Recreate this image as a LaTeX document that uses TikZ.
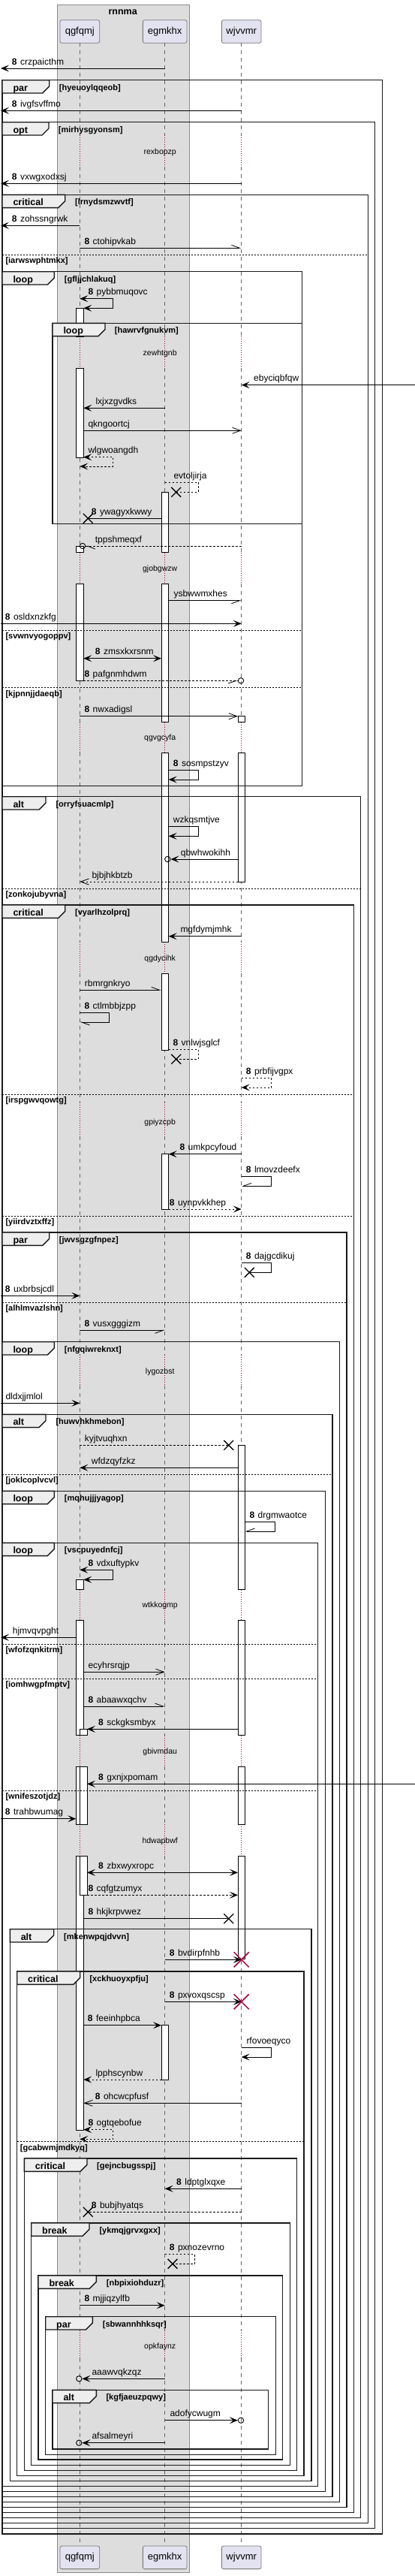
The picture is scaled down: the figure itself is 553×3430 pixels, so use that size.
\documentclass[tikz,border=0pt]{standalone}
\usepackage{fontspec}
\setmainfont{Liberation Sans}
\usetikzlibrary{arrows.meta,shapes.misc}
\definecolor{boxfill}{HTML}{DDDDDD}
\definecolor{boxline}{HTML}{8C8C8C}
\definecolor{partfill}{HTML}{E2E2F0}
\definecolor{partline}{HTML}{7A7A7A}
\definecolor{tabfill}{HTML}{EEEEEE}
\definecolor{lifegrey}{HTML}{666666}
\definecolor{xred}{HTML}{A80036}
\newcounter{lblc}
\newcommand\msgnum[3]{\stepcounter{lblc}\node[lbl] (lab\thelblc) at (#1,#2-5) {\textbf{8}\hspace{4.5pt}#3};}
\newcommand\msgtxt[3]{\stepcounter{lblc}\node[lbl] (lab\thelblc) at (#1,#2-5) {#3};}
\newcommand\grpframe[8]{\stepcounter{lblc}%
  \draw[frm] (#1,#2) rectangle (#3,#4);
  \draw[frmtab] (#1,#2) -- (#5,#2) -- (#5,#2+8.3) -- (#5-9,#2+17.3) -- (#1,#2+17.3) -- cycle;
  \node[tabtxt] (tab\thelblc) at (#1+14.3,#2+14.3) {#6};
  \node[cndtxt] (cnd\thelblc) at (#7,#2+13.3) {#8};}
\newcommand\grpsep[5]{\stepcounter{lblc}%
  \draw[sepln] (#1,#3) -- (#2,#3);
  \node[cndtxt] (sep\thelblc) at (#4,#3+11.5) {#5};}
\begin{document}
\begin{tikzpicture}[x=1pt,y=-1pt,
 lbl/.style={anchor=base west,inner sep=0pt,font=\fontsize{12}{14}\selectfont},
 cndtxt/.style={anchor=base west,inner sep=0pt,font=\bfseries\fontsize{11}{13}\selectfont},
 tabtxt/.style={anchor=base west,inner sep=0pt,font=\bfseries\fontsize{12.5}{14}\selectfont},
 dlytxt/.style={anchor=base,inner sep=0pt,font=\fontsize{10.5}{12}\selectfont},
 partbox/.style={draw=partline,fill=partfill,rounded corners=2.5pt,minimum height=30.6pt,inner sep=0pt,line width=0.8pt,font=\fontsize{13}{15}\selectfont},
 grpbox/.style={draw=boxline,fill=boxfill,line width=0.8pt},
 lifeln/.style={draw=lifegrey,line width=0.7pt,dash pattern=on 5pt off 5pt},
 dlyln/.style={draw=xred,line width=0.7pt,dash pattern=on 0.8pt off 2.2pt},
 actbar/.style={draw=black,fill=white,line width=0.8pt},
 frm/.style={draw=black!90,line width=1.4pt},
 frmtab/.style={draw=black!90,fill=tabfill,line width=1.4pt},
 sepln/.style={draw=black,line width=0.7pt,dash pattern=on 2pt off 2pt},
 mline/.style={draw=black,line width=0.8pt},
 mdash/.style={dash pattern=on 2.5pt off 2.5pt},
 afill/.style={-{Stealth[length=11pt,width=9pt,inset=5pt]}},
 afillb/.style={{Stealth[length=11pt,width=9pt,inset=5pt]}-{Stealth[length=11pt,width=9pt,inset=5pt]}},
 aopen/.style={-{Straight Barb[length=11pt,width=8pt]}},
 ahl/.style={-{Straight Barb[length=11pt,width=8pt,left]}},
 ahr/.style={-{Straight Barb[length=11pt,width=8pt,right]}},
 xmk/.style={cross out,draw=black,line width=1.3pt,minimum size=11.5pt,inner sep=0pt},
 rxmk/.style={cross out,draw=xred,line width=1.5pt,minimum size=18.6pt,inner sep=0pt},
 circ/.style={circle,draw=black,line width=0.9pt,minimum size=7.4pt,inner sep=0pt},
]
\useasboundingbox (0,0) rectangle (553,3430);
\fill[white] (0,0) rectangle (553,3430);
% group box
\draw[grpbox] (76,6) rectangle (252.7,3425);
\node[anchor=base,inner sep=0pt,font=\bfseries\fontsize{12.5}{14}\selectfont] (gtitle) at (163.7,19.5) {rnnma};
% participants
\node[partbox,minimum width=52.7pt] (pA) at (106.3,42) {qgfqmj};
\node[partbox,minimum width=58.7pt] (pB) at (219.7,42) {egmkhx};
\node[partbox,minimum width=52.7pt] (pC) at (321.7,42) {wjvvmr};
\node[partbox,minimum width=52.7pt] (pA2) at (106.3,3405.3) {qgfqmj};
\node[partbox,minimum width=58.7pt] (pB2) at (219.7,3405.3) {egmkhx};
\node[partbox,minimum width=52.7pt] (pC2) at (321.7,3405.3) {wjvvmr};
\coordinate (A) at (106.3,57.3);
\coordinate (B) at (219.7,57.3);
\coordinate (C) at (321.7,57.3);
\coordinate (Al) at (101.3,57.3);
\coordinate (Ar) at (111.3,57.3);
\coordinate (An) at (116,57.3);
\coordinate (Bl) at (215,57.3);
\coordinate (Br) at (224.7,57.3);
\coordinate (Cl) at (317,57.3);
\coordinate (Cr) at (326.3,57.3);
\coordinate (L) at (1,57.3);
\coordinate (R) at (553,57.3);
% lifelines
\foreach \ya/\yb in {57.3/180,221.7/448.3,490/735.7,777.3/961.7,1002/1254.3,1296/1468.3,1513.3/1804.3,1845/2116.7,2157.7/2310.7,2352/2429.3,2471/3103.3,3140/3390}{
  \draw[lifeln] (A |- 0,\ya) -- (A |- 0,\yb);
  \draw[lifeln] (B |- 0,\ya) -- (B |- 0,\yb);
  \draw[lifeln] (C |- 0,\ya) -- (C |- 0,\yb);
}
% delays
\foreach \ya/\yb/\yt/\tx in {180/221.7/202.3/rexbopzp,448.3/490/470.3/zewhtgnb,735.7/777.3/757.3/gjobgwzw,961.7/1002/982.3/qgvgcyfa,1254.3/1296/1276/qgdycihk,1468.3/1513.3/1494.3/gpiyzcpb,1804.3/1845/1826.3/lygozbst,2116.7/2157.7/2137.3/wtkkogmp,2310.7/2352/2332.3/gbivmdau,2429.3/2471/2451/hdwapbwf,3103.3/3140/3124.3/opkfaynz}{
  \draw[dlyln] (A |- 0,\ya) -- (A |- 0,\yb);
  \draw[dlyln] (B |- 0,\ya) -- (B |- 0,\yb);
  \draw[dlyln] (C |- 0,\ya) -- (C |- 0,\yb);
  \node[dlytxt] (d\tx) at (213.2,\yt+3.5) {\tx};
}
% activation bars
\foreach \ya/\yb in {410.3/448.3,490/609.3,727/735.7,777.3/906.3,2103.3/2116.7,2157.7/2310.7,2352/2429.3,2471/2836.3}{
  \draw[actbar] (101.3,\ya) rectangle (111.3,\yb);}
\foreach \ya/\yb in {2302.3/2310.7,2352/2429.3,2471/2523.3}{
  \draw[actbar] (106.3,\ya) rectangle (116,\yb);}
\foreach \ya/\yb in {655.3/735.7,777.3/961.7,1002/1254.3,1296/1398.3,1536.7/1610,2696.7/2769}{
  \draw[actbar] (215,\ya) rectangle (224.7,\yb);}
\foreach \ya/\yb in {953.7/961.7,1002/1174.3,1924.3/2116.7,2157.7/2310.7,2352/2429.3,2471/2608.7}{
  \draw[actbar] (317,\ya) rectangle (326.3,\yb);}
% frames
\grpframe{3}{106.7}{509.3}{3374}{65.7}{par}{78.7}{[hyeuoylqqeob]}
\grpframe{3}{162.7}{499.7}{3366.7}{65}{opt}{77.7}{[mirhysgyonsm]}
\grpframe{3}{259.3}{490.7}{3359.7}{86.7}{critical}{100}{[lrnydsmzwvtf]}
\grpsep{3}{490.7}{339}{7.3}{[iarwswphtmkx]}
\grpframe{3}{361.7}{402.3}{1046.7}{72.3}{loop}{85.7}{[gfljjchlakuq]}
\grpframe{70}{430.3}{402.3}{697.7}{140}{loop}{152.7}{[hawrvfgnukvm]}
\grpsep{3}{402.3}{839.3}{7.3}{[svwnvyogoppv]}
\grpsep{3}{402.3}{915.7}{7.3}{[kjpnnjjdaeqb]}
\grpframe{3}{1060.7}{480.7}{3352.7}{61}{alt}{74.3}{[orryfsuacmlp]}
\grpsep{3}{480.7}{1183.3}{7.3}{[zonkojubyvna]}
\grpframe{3}{1205}{471.3}{3345.7}{86.7}{critical}{100}{[vyarlhzolprq]}
\grpsep{3}{471.3}{1457.3}{7.3}{[irspgwvqowtg]}
\grpsep{3}{471.3}{1619}{7.3}{[yiirdvztxffz]}
\grpframe{3}{1641}{462}{3338.3}{65.7}{par}{78.7}{[jwvsgzgfnpez]}
\grpsep{3}{462}{1734.3}{7.3}{[alhlmvazlshn]}
\grpframe{3}{1786.7}{452.3}{3331.7}{72.3}{loop}{85.7}{[nfgqiwreknxt]}
\grpframe{3}{1883.3}{443}{3324.7}{61}{alt}{74.3}{[huwvhkhmebon]}
\grpsep{3}{443}{1963.3}{7.3}{[joklcoplvcvl]}
\grpframe{3}{1985.3}{433.3}{3317.7}{72.3}{loop}{85.7}{[mqhujjjyagop]}
\grpframe{3}{2054.3}{423.7}{3310.7}{72.3}{loop}{85.7}{[vscpuyednfcj]}
\grpsep{3}{423.7}{2189}{7.3}{[wfofzqnkitrm]}
\grpsep{3}{423.7}{2235}{7.3}{[iomhwgpfmptv]}
\grpsep{3}{423.7}{2384.3}{7.3}{[wnifeszotjdz]}
\grpframe{13.3}{2568.7}{415}{3303.7}{71.7}{alt}{85}{[mkenwpqjdvvn]}
\grpframe{22.7}{2625}{405}{3296.7}{106.7}{critical}{119.3}{[xckhuoyxpfju]}
\grpsep{22.7}{405}{2851.7}{26.7}{[gcabwmjmdkyq]}
\grpframe{32.3}{2874}{395.7}{3289.3}{116}{critical}{129}{[gejncbugsspj]}
\grpframe{41.7}{2960}{386.3}{3282.3}{119}{break}{132.3}{[ykmqjgrvxgxx]}
\grpframe{51}{3030}{376.7}{3275}{128.3}{break}{141.7}{[nbpixiohduzr]}
\grpframe{60.7}{3084.7}{367.3}{3268.3}{123.3}{par}{136.7}{[sbwannhhksqr]}
\grpframe{70}{3182.3}{357.7}{3261}{128.3}{alt}{141.3}{[kgfjaeuzpqwy]}
% messages
\draw[mline,afill] (B |- 0,91) -- (L |- 0,91); \msgnum{15.7}{91}{crzpaicthm}
\draw[mline,afill] (C |- 0,147.3) -- (L |- 0,147.3); \msgnum{15.7}{147.3}{ivgfsvffmo}
\draw[mline,afill] (C |- 0,244.3) -- (L |- 0,244.3); \msgnum{15.7}{244.3}{vxwgxodxsj}
\draw[mline,afill] (A |- 0,300.3) -- (L |- 0,300.3); \msgnum{15.7}{300.3}{zohssngrwk}
\draw[mline,ahl] (A |- 0,330.3) -- (C |- 0,330.3); \msgnum{112.3}{330.3}{ctohipvkab}
\draw[mline,afillb] (A |- 0,397.7) -- (150.7,397.7) -- (150.7,410.3) -- (Ar |- 0,410.3); \msgnum{117.3}{397.7}{pybbmuqovc}
\draw[mline,afill] (R |- 0,512.7) -- (C |- 0,512.7); \msgtxt{338}{512.7}{ebyciqbfqw}
\draw[mline,afill] (B |- 0,543.3) -- (Ar |- 0,543.3); \msgtxt{127.3}{543.3}{lxjxzgvdks}
\draw[mline,aopen] (Ar |- 0,573.3) -- (C |- 0,573.3); \msgtxt{117.3}{573.3}{qkngoortcj}
\draw[mline,mdash,afillb] (Ar |- 0,608.7) -- (150.7,608.7) -- (150.7,621) -- (A |- 0,621); \msgtxt{117.3}{608.7}{wlgwoangdh}
\node[xmk] (x1) at (234.7,655.3) {};
\draw[mline,mdash] (B |- 0,642) -- (264.3,642) -- (264.3,655.3) -- (x1.center); \msgtxt{231.3}{642}{evtoljirja}
\node[xmk] (x2) at (117.3,690.3) {};
\draw[mline] (Bl |- 0,690.3) -- (x2.center); \msgnum{121.7}{690.3}{ywagyxkwwy}
\node[circ] (c1) at (110,727) {};
\draw[mline,mdash] (C |- 0,727) -- (c1);
\draw[mline] (116.7,727) -- (126.7,731);
\msgtxt{126.7}{727}{tppshmeqxf}
\draw[mline,ahr] (Br |- 0,799.7) -- (C |- 0,799.7); \msgtxt{231.3}{799.7}{ysbwwmxhes}
\draw[mline,afill] (L |- 0,830.3) -- (C |- 0,830.3); \msgnum{6.7}{830.3}{osldxnzkfg}
\draw[mline,afillb] (Ar |- 0,876.7) -- (Bl |- 0,876.7); \msgnum{126.7}{876.7}{zmsxkxrsnm}
\node[circ] (c2) at (321,906.3) {};
\draw[mline,mdash] (Ar |- 0,906.3) -- (c2);
\draw[mline] (304,910) -- (315,906.3);
\msgnum{112.3}{906.3}{pafgnmhdwm}
\draw[mline,aopen] (A |- 0,953.7) -- (Cl |- 0,953.7); \msgnum{112.3}{953.7}{nwxadigsl}
\draw[mline,afill] (Br |- 0,1025.7) -- (264.3,1025.7) -- (264.3,1038) -- (Br |- 0,1038); \msgnum{230.7}{1025.7}{sosmpstzyv}
\draw[mline,afill] (Br |- 0,1100.7) -- (264.3,1100.7) -- (264.3,1113.3) -- (Br |- 0,1113.3); \msgtxt{230.7}{1100.7}{wzkqsmtjve}
\node[circ] (c3) at (223.3,1144) {};
\draw[mline,afill] (Cl |- 0,1144) -- (c3); \msgtxt{240.7}{1144}{qbwhwokihh}
\draw[mline,mdash,aopen] (Cl |- 0,1174) -- (A |- 0,1174); \msgtxt{122.3}{1174}{bjbjhkbtzb}
\draw[mline,afill] (C |- 0,1246.7) -- (Br |- 0,1246.7); \msgtxt{240.3}{1246.7}{mgfdymjmhk}
\draw[mline,ahl] (A |- 0,1318.3) -- (Bl |- 0,1318.3); \msgtxt{112.7}{1318.3}{rbmrgnkryo}
\draw[mline,ahl] (A |- 0,1348.7) -- (145.7,1348.7) -- (145.7,1361) -- (A |- 0,1361); \msgnum{112.3}{1348.7}{ctlmbbjzpp}
\node[xmk] (x3) at (234.7,1410.3) {};
\draw[mline,mdash] (Br |- 0,1397.3) -- (264.3,1397.3) -- (264.3,1410.3) -- (x3.center); \msgnum{230.3}{1397.3}{vnlwjsglcf}
\draw[mline,mdash,afill] (C |- 0,1435.7) -- (361.7,1435.7) -- (361.7,1448) -- (C |- 0,1448); \msgnum{327.7}{1435.7}{prbfijvgpx}
\draw[mline,afill] (C |- 0,1536.7) -- (Br |- 0,1536.7); \msgnum{239.3}{1536.7}{umkpcyfoud}
\draw[mline,ahr] (C |- 0,1566.7) -- (361.7,1566.7) -- (361.7,1579.3) -- (C |- 0,1579.3); \msgnum{327.7}{1566.7}{lmovzdeefx}
\draw[mline,mdash,afill] (Br |- 0,1610) -- (C |- 0,1610); \msgnum{225.7}{1610}{uynpvkkhep}
\node[xmk] (x4) at (332.3,1694.3) {};
\draw[mline] (C |- 0,1681.7) -- (361.7,1681.7) -- (361.7,1694.3) -- (x4.center); \msgnum{327.7}{1681.7}{dajgcdikuj}
\draw[mline,afill] (L |- 0,1725.3) -- (A |- 0,1725.3); \msgnum{6.7}{1725.3}{uxbrbsjcdl}
\draw[mline,ahr] (A |- 0,1771.3) -- (B |- 0,1771.3); \msgnum{112.3}{1771.3}{vusxgggizm}
\draw[mline,afill] (L |- 0,1868.3) -- (A |- 0,1868.3); \msgtxt{7.3}{1868.3}{dldxjjmlol}
\node[xmk] (x5) at (304.7,1924.3) {};
\draw[mline,mdash] (A |- 0,1924.3) -- (x5.center); \msgtxt{112.7}{1924.3}{kyjtvuqhxn}
\draw[mline,afill] (Cl |- 0,1954.3) -- (A |- 0,1954.3); \msgtxt{121.7}{1954.3}{wfdzqyfzkz}
\draw[mline,ahr] (Cr |- 0,2026.7) -- (366,2026.7) -- (366,2039) -- (Cr |- 0,2039); \msgnum{332.3}{2026.7}{drgmwaotce}
\draw[mline,afillb] (A |- 0,2090.3) -- (150.7,2090.3) -- (150.7,2103.3) -- (Ar |- 0,2103.3); \msgnum{117.3}{2090.3}{vdxuftypkv}
\draw[mline,afill] (Al |- 0,2180.3) -- (L |- 0,2180.3); \msgtxt{16.7}{2180.3}{hjmvqvpght}
\draw[mline,aopen] (Ar |- 0,2226.3) -- (B |- 0,2226.3); \msgtxt{117.3}{2226.3}{ecyhrsrqjp}
\draw[mline,ahl] (Ar |- 0,2272) -- (B |- 0,2272); \msgnum{117.3}{2272}{abaawxqchv}
\draw[mline,afill] (Cl |- 0,2302.3) -- (An |- 0,2302.3); \msgnum{131}{2302.3}{sckgksmbyx}
\draw[mline,afill] (R |- 0,2375.3) -- (An |- 0,2375.3); \msgnum{131}{2375.3}{gxnjxpomam}
\draw[mline,afill] (L |- 0,2421.7) -- (Al |- 0,2421.7); \msgnum{6.7}{2421.7}{trahbwumag}
\draw[mline,afillb] (An |- 0,2493.3) -- (Cl |- 0,2493.3); \msgnum{131}{2493.3}{zbxwyxropc}
\draw[mline,mdash,afill] (An |- 0,2523.3) -- (Cl |- 0,2523.3); \msgnum{117.3}{2523.3}{cqfgtzumyx}
\node[xmk] (x6) at (304.7,2554.7) {};
\draw[mline] (Ar |- 0,2554.7) -- (x6.center); \msgnum{117.3}{2554.7}{hkjkrpvwez}
\draw[mline,afill] (B |- 0,2609.3) -- (C |- 0,2609.3); \node[rxmk] (rx1) at (C |- 0,2609.3) {}; \msgnum{225.7}{2609.3}{bvdirpfnhb}
\draw[mline,afill] (B |- 0,2665.3) -- (C |- 0,2665.3); \node[rxmk] (rx2) at (C |- 0,2665.3) {}; \msgnum{225.7}{2665.3}{pxvoxqscsp}
\draw[mline,afill] (Ar |- 0,2696.7) -- (Bl |- 0,2696.7); \msgnum{116.7}{2696.7}{feeinhpbca}
\draw[mline,afill] (C |- 0,2726.7) -- (361.7,2726.7) -- (361.7,2739) -- (C |- 0,2739); \msgtxt{328.3}{2726.7}{rfovoeqyco}
\draw[mline,mdash,afill] (Bl |- 0,2769) -- (Ar |- 0,2769); \msgtxt{127.3}{2769}{lpphscynbw}
\draw[mline,aopen] (C |- 0,2800.3) -- (Ar |- 0,2800.3); \msgnum{126.7}{2800.3}{ohcwcpfusf}
\draw[mline,mdash,afillb] (Ar |- 0,2835.7) -- (150.7,2835.7) -- (150.7,2848.3) -- (A |- 0,2848.3); \msgnum{117.3}{2835.7}{ogtqebofue}
\draw[mline,afill] (C |- 0,2914.3) -- (B |- 0,2914.3); \msgnum{235}{2914.3}{ldptglxqxe}
\node[xmk] (x7) at (117.3,2945.3) {};
\draw[mline,mdash] (C |- 0,2945.3) -- (x7.center); \msgnum{121.7}{2945.3}{bubjhyatqs}
\node[xmk] (x8) at (230,3014.3) {};
\draw[mline,mdash] (B |- 0,3001.7) -- (259.3,3001.7) -- (259.3,3014.3) -- (x8.center); \msgnum{225.7}{3001.7}{pxnozevrno}
\draw[mline,afill] (A |- 0,3069.7) -- (B |- 0,3069.7); \msgnum{112.3}{3069.7}{mjjiqzylfb}
\node[circ] (c4) at (105.3,3167.3) {};
\draw[mline,afill] (B |- 0,3167.3) -- (c4); \msgtxt{122.3}{3167.3}{aaawvqkzqz}
\node[circ] (c5) at (321,3222.7) {};
\draw[mline,afill] (B |- 0,3222.7) -- (c5); \msgtxt{226.3}{3222.7}{adofycwugm}
\node[circ] (c6) at (105.3,3252.7) {};
\draw[mline,afill] (B |- 0,3252.7) -- (c6); \msgtxt{122.3}{3252.7}{afsalmeyri}
\end{tikzpicture}
\end{document}
